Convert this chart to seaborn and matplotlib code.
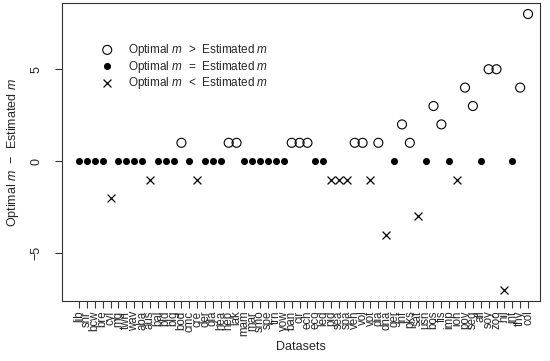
import pandas as pd
import matplotlib
matplotlib.use("Agg")
import matplotlib.pyplot as plt
import seaborn as sns

# Datasets in plotting order and the difference Optimal m - Estimated m
datasets = ["lib", "snr", "bcw", "bre", "cyl", "mg", "twn", "wav", "aba", "aus",
            "bal", "bld", "blg", "bod", "cmc", "cre", "der", "gla", "hea", "hep",
            "lak", "mam", "mar", "smo", "spe", "trn", "yow", "ban", "cir", "ech",
            "eco", "led", "pid", "sea", "spa", "veh", "vol", "vot", "dia", "dna",
            "ger", "inf", "pks", "sat", "usn", "bos", "fis", "imp", "ion", "pov",
            "seg", "all", "soy", "zoo", "hil", "int", "thy", "col"]
diff = [0, 0, 0, 0, -2, 0, 0, 0, 0, -1,
        0, 0, 0, 1, 0, -1, 0, 0, 0, 1,
        1, 0, 0, 0, 0, 0, 0, 1, 1, 1,
        0, 0, -1, -1, -1, 1, 1, -1, 1, -4,
        0, 2, 1, -3, 0, 3, 2, 0, -1, 4,
        3, 0, 5, 5, -7, 0, 4, 8]

df = pd.DataFrame({"pos": range(len(datasets)), "dataset": datasets, "diff": diff})

sns.set_style("ticks")
plt.rcParams["font.family"] = ["Liberation Sans", "DejaVu Sans"]
plt.rcParams["mathtext.fontset"] = "custom"
plt.rcParams["mathtext.rm"] = "Liberation Sans"
plt.rcParams["mathtext.it"] = "Liberation Sans:italic"

fig = plt.figure(figsize=(5.5, 3.61), dpi=100)
ax = fig.add_axes([62 / 550, 60 / 361, 478 / 550, 298 / 361])

gt = df[df["diff"] > 0]
eq = df[df["diff"] == 0]
lt = df[df["diff"] < 0]

sns.scatterplot(data=gt, x="pos", y="diff", ax=ax, marker="o", s=42,
                facecolors="none", edgecolor="black", linewidth=0.8,
                label=r"Optimal $m$  >  Estimated $m$")
sns.scatterplot(data=eq, x="pos", y="diff", ax=ax, marker="o", s=26,
                color="black", edgecolor="black", linewidth=0,
                label=r"Optimal $m$  =  Estimated $m$")
sns.scatterplot(data=lt, x="pos", y="diff", ax=ax, marker="x", s=32,
                color="black", linewidth=0.9,
                label=r"Optimal $m$  <  Estimated $m$")

ax.set_xlim(-2.16, 58.52)
ax.set_ylim(-7.6, 8.6)
ax.set_xticks(df["pos"])
ax.set_xticklabels(datasets, rotation=90, fontsize=8.3)
ax.set_yticks([-5, 0, 5])
ax.set_yticklabels(["\u22125", "0", "5"], rotation=90, va="center", fontsize=9)
ax.tick_params(axis="x", length=5, width=0.8, color="#333333", pad=2)
ax.tick_params(axis="y", length=5, width=0.8, color="#333333", pad=9)
for sp in ax.spines.values():
    sp.set_linewidth(0.8)
    sp.set_color("#333333")
    sp.set_visible(True)

ax.set_xlabel("Datasets", fontsize=9, labelpad=3)
ax.set_ylabel(r"Optimal $m$  $-$  Estimated $m$", fontsize=9, labelpad=7)

ax.legend(loc="upper left", bbox_to_anchor=(0.06, 0.885), frameon=False,
          fontsize=8.5, handletextpad=0.8, labelspacing=0.05, borderaxespad=0)

fig.savefig("out.png", dpi=100)
